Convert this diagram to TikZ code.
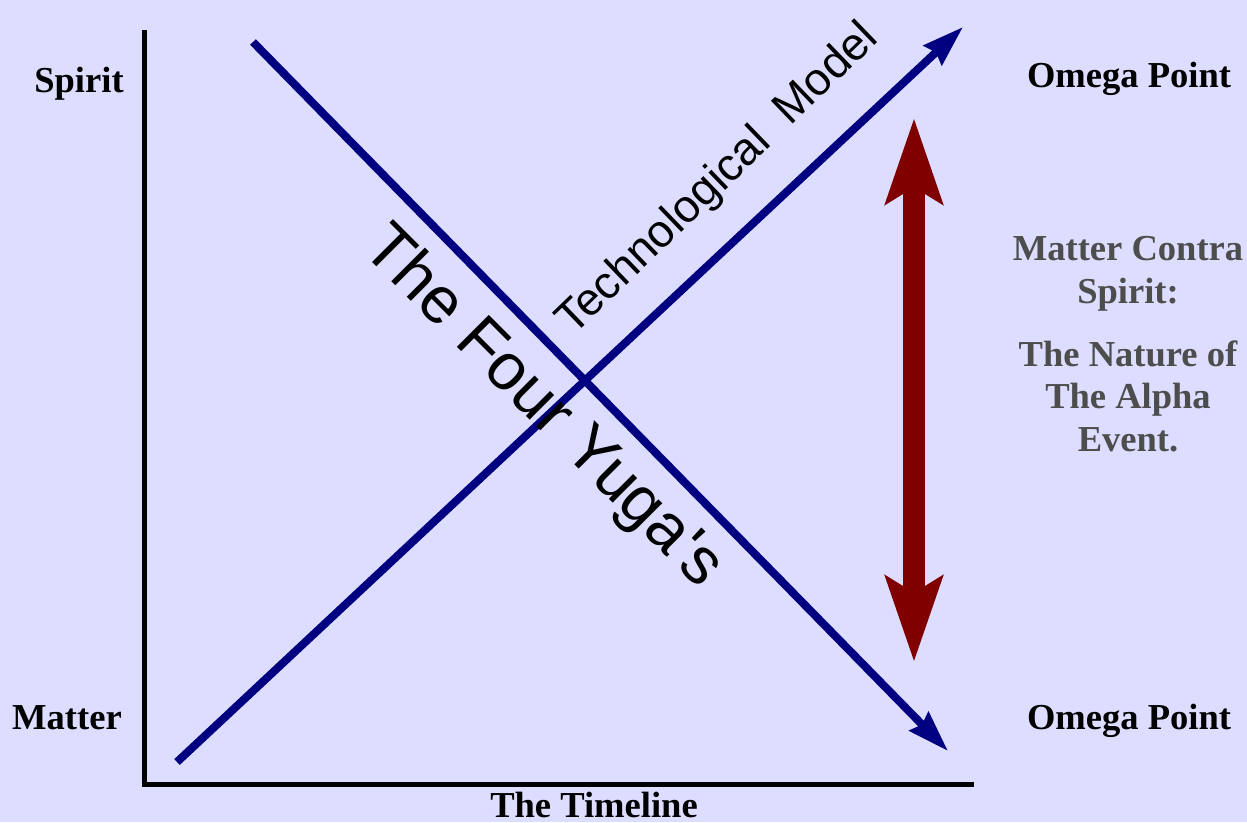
\documentclass[tikz,border=0pt]{standalone}
\usepackage{fontspec}
\setmainfont{Liberation Serif}
\newfontfamily\arialfont{Liberation Sans}
\usetikzlibrary{arrows.meta}

\definecolor{slidebg}{RGB}{221,221,255}
\definecolor{trendblue}{RGB}{0,0,128}
\definecolor{polarred}{RGB}{128,0,0}
\definecolor{notegray}{RGB}{77,77,77}

\begin{document}
\begin{tikzpicture}[
    x=0.02cm, y=-0.02cm,
    >=Stealth,
    label/.style={font=\fontsize{20.8}{24.4}\selectfont\bfseries, inner sep=0pt},
    note/.style={label, text=notegray, align=center},
    tilted/.style={font=\arialfont\fontsize{26}{30}\selectfont, inner sep=0pt},
    bigtilted/.style={font=\arialfont\fontsize{37.4}{44}\selectfont, inner sep=0pt},
    axis/.style={line width=0.1cm},
    trend/.style={draw=trendblue, line width=0.16cm, -{Stealth[length=0.82cm, width=0.52cm, inset=0.08cm]}},
    polarity/.style={draw=polarred, fill=polarred, line width=0.44cm,
        {Stealth[length=1.7cm, width=1.12cm, inset=0.32cm]}-{Stealth[length=1.7cm, width=1.12cm, inset=0.32cm]}}
]
% slide background
\fill[slidebg] (0,0) rectangle (1247,822);
\useasboundingbox (0,0) rectangle (1247,822);

% axes
\coordinate (yTop) at (144,30);
\coordinate (origin) at (144,784);
\coordinate (xEnd) at (974,784);
\draw[axis] (yTop) -- (origin) -- (xEnd);

% the two trends
\coordinate (techStart) at (177,762);
\coordinate (techEnd) at (963,27);
\coordinate (yugaStart) at (253,42);
\coordinate (yugaEnd) at (948,751);
\draw[trend] (techStart) -- (techEnd);
\draw[trend] (yugaStart) -- (yugaEnd);

\node[tilted, rotate=44, anchor=base west] (techLabel) at (573,337) {Technological\ \ Model};
\node[bigtilted, rotate=-45, anchor=base west] (yugaLabel) at (360,250) {The Four Yuga's};

% matter versus spirit
\coordinate (polBot) at (914,662);
\coordinate (polTop) at (914,118);
\draw[polarity] (polBot) -- (polTop);

% axis labels
\node[label, anchor=base] (spirit) at (79,92) {Spirit};
\node[label, anchor=base] (matter) at (67,729) {Matter};
\node[label, anchor=base] (omegaTop) at (1129,87) {Omega Point};
\node[label, anchor=base] (omegaBot) at (1129,729) {Omega Point};
\node[label, anchor=base] (timeline) at (594,817) {The Timeline};

% side notes
\node[note, anchor=north] (contra) at (1128,236) {Matter Contra\\Spirit:};
\node[note, anchor=north] (alpha) at (1128,340) {The Nature of\\The Alpha\\Event.};
\end{tikzpicture}
\end{document}
